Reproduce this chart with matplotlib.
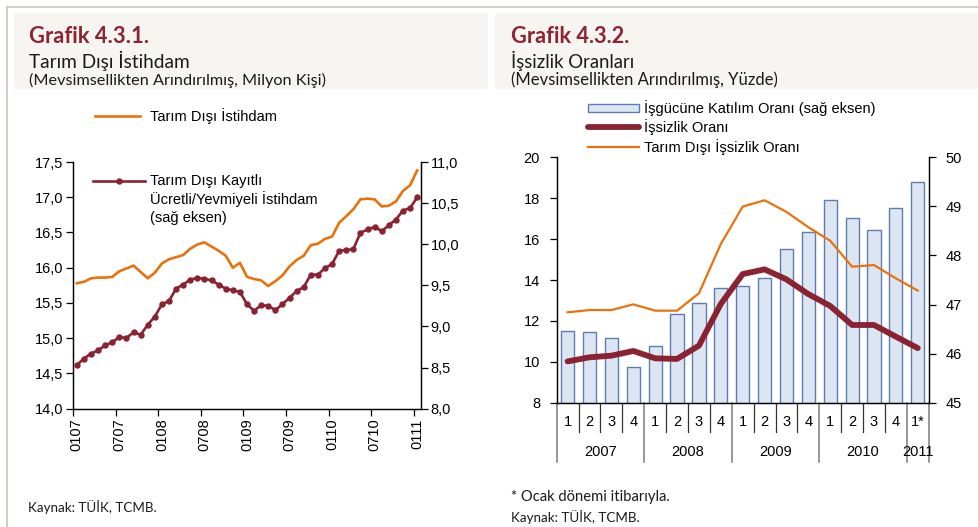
import matplotlib
matplotlib.use('Agg')
import numpy as np
import matplotlib.pyplot as plt
from matplotlib.lines import Line2D
from matplotlib.patches import Rectangle
from matplotlib.ticker import FuncFormatter
import matplotlib.transforms as mtransforms

# ---------------- data ----------------
month_labels = ['0107', '0707', '0108', '0708', '0109', '0709', '0110', '0710', '0111']
nonfarm_employment = [15.78, 15.80, 15.85, 15.86, 15.86, 15.87, 15.95, 15.99, 16.03, 15.94,
                      15.85, 15.93, 16.06, 16.12, 16.15, 16.18, 16.27, 16.33, 16.36, 16.30,
                      16.24, 16.17, 16.00, 16.07, 15.87, 15.84, 15.82, 15.74, 15.81, 15.89,
                      16.02, 16.11, 16.17, 16.32, 16.34, 16.41, 16.44, 16.64, 16.73, 16.83,
                      16.97, 16.98, 16.97, 16.87, 16.88, 16.94, 17.09, 17.17, 17.38]
registered_employment = [8.53, 8.61, 8.67, 8.71, 8.77, 8.81, 8.87, 8.86, 8.93, 8.90,
                         9.02, 9.12, 9.27, 9.31, 9.46, 9.51, 9.57, 9.59, 9.58, 9.56,
                         9.51, 9.46, 9.44, 9.42, 9.27, 9.19, 9.26, 9.25, 9.20, 9.27,
                         9.35, 9.43, 9.48, 9.63, 9.63, 9.71, 9.76, 9.92, 9.93, 9.94,
                         10.14, 10.18, 10.21, 10.16, 10.23, 10.30, 10.41, 10.44, 10.57]

quarter_labels = ['1', '2', '3', '4', '1', '2', '3', '4', '1', '2', '3', '4',
                  '1', '2', '3', '4', '1*']
year_labels = ['2007', '2008', '2009', '2010', '2011']
participation_rate = [46.47, 46.45, 46.32, 45.73, 46.15, 46.80, 47.04, 47.33, 47.38,
                      47.55, 48.13, 48.48, 49.12, 48.77, 48.52, 48.97, 49.49]
unemployment_rate = [10.02, 10.22, 10.30, 10.53, 10.17, 10.14, 10.79, 12.83, 14.29,
                     14.52, 14.03, 13.31, 12.73, 11.80, 11.80, 11.23, 10.67]
nonfarm_unemployment_rate = [12.42, 12.53, 12.53, 12.81, 12.50, 12.50, 13.35, 15.76, 17.59,
                             17.90, 17.33, 16.58, 15.92, 14.65, 14.73, 14.08, 13.48]

# ---------------- style ----------------
W, H = 979, 527
fig = plt.figure(figsize=(W / 100, H / 100), dpi=100)
fig.patch.set_facecolor('white')

CHART_FONT = ['Liberation Sans', 'DejaVu Sans']
HEAD_FONT = ['Lato', 'DejaVu Sans']
MAROON = '#8b2232'
ORANGE = '#e8730e'
TITLE_C = '#8c2434'
FS = 10.5

plt.rcParams['font.family'] = CHART_FONT


def fx(x):
    return x / W


def fy(y):
    return 1 - y / H


renderer = fig.canvas.get_renderer()


def fit_text(x, y, s, target_w, family=HEAD_FONT, color='#1a1a1a', weight='normal', fs0=10):
    t = fig.text(fx(x), fy(y), s, fontsize=fs0, family=family, color=color,
                 weight=weight, va='center', ha='left')
    w = t.get_window_extent(renderer=renderer).width
    t.set_fontsize(fs0 * target_w / w)
    return t


# ---------------- panel decoration ----------------
fig.patches.append(Rectangle((fx(14), fy(89.3)), fx(488) - fx(14), (89.3 - 13.3) / H,
                             transform=fig.transFigure, facecolor='#f6f5f1',
                             edgecolor='none', zorder=0))
fig.patches.append(Rectangle((fx(495), fy(89.3)), fx(979) - fx(495), (89.3 - 13.3) / H,
                             transform=fig.transFigure, facecolor='#f6f5f1',
                             edgecolor='none', zorder=0))
fig.lines.append(Line2D([fx(7), fx(979)], [fy(6.6), fy(6.6)], transform=fig.transFigure,
                        color='#cfcac2', lw=1.3))
fig.lines.append(Line2D([fx(7.3), fx(7.3)], [fy(6.6), fy(527)], transform=fig.transFigure,
                        color='#cfcac2', lw=1.3))

# ---------------- headers ----------------
fit_text(29, 36.7, 'Grafik 4.3.1.', 119, color=TITLE_C, weight='bold')
fit_text(29, 61, 'Tarım Dışı İstihdam', 161)
fit_text(29, 80, '(Mevsimsellikten Arındırılmış, Milyon Kişi)', 297)
fit_text(510.7, 36.7, 'Grafik 4.3.2.', 119, color=TITLE_C, weight='bold')
fit_text(510.7, 61, 'İşsizlik Oranları', 122.7)
fit_text(510.7, 80, '(Mevsimsellikten Arındırılmış, Yüzde)', 268)

fit_text(28.3, 506.7, 'Kaynak: TÜİK, TCMB.', 128)
fit_text(510.7, 497.3, '* Ocak dönemi itibarıyla.', 158.6)
fit_text(510.7, 516.7, 'Kaynak: TÜİK, TCMB.', 128)

comma = FuncFormatter(lambda v, p: f'{v:.1f}'.replace('.', ','))

# ---------------- left chart ----------------
axL = fig.add_axes([fx(73.3), fy(408.7), (420.7 - 73.3) / W, (408.7 - 162) / H])
xm = np.arange(len(nonfarm_employment))
axL.plot(xm, nonfarm_employment, color=ORANGE, lw=1.9, zorder=3)
axL.set_xlim(-0.5, len(nonfarm_employment) - 0.5)
axL.set_ylim(14, 17.5)
axL.set_yticks(np.arange(14, 17.51, 0.5))
axL.yaxis.set_major_formatter(comma)
axL.set_xticks([6 * i for i in range(len(month_labels))])
axL.set_xticklabels(month_labels, rotation=90, fontsize=FS)
axL.set_xticks(np.arange(-0.5, len(nonfarm_employment) - 1, 6), minor=True)
axL.tick_params(axis='x', which='major', length=0, pad=7)
axL.tick_params(axis='x', which='minor', length=5, direction='out', width=0.9)
axL.tick_params(axis='y', length=5, pad=2, labelsize=FS, width=0.9)
axL.spines['top'].set_visible(False)

axR = axL.twinx()
axR.plot(xm, registered_employment, color=MAROON, lw=1.9, marker='o', ms=3.6, zorder=3)
axR.set_ylim(8, 11)
axR.set_yticks(np.arange(8, 11.01, 0.5))
axR.yaxis.set_major_formatter(comma)
axR.tick_params(axis='y', length=5, pad=2, labelsize=FS, width=0.9)
axR.spines['top'].set_visible(False)
for ax in (axL, axR):
    for sp in ax.spines.values():
        sp.set_linewidth(0.9)

# left legends
fig.lines.append(Line2D([fx(95), fx(140)], [fy(116), fy(116)], transform=fig.transFigure,
                        color=ORANGE, lw=1.9))
fig.text(fx(150), fy(116), 'Tarım Dışı İstihdam', fontsize=FS, va='center', ha='left')
fig.lines.append(Line2D([fx(93), fx(145)], [fy(180.5), fy(180.5)], transform=fig.transFigure,
                        color=MAROON, lw=1.9))
fig.lines.append(Line2D([fx(119)], [fy(180.5)], transform=fig.transFigure,
                        color=MAROON, marker='o', ms=3.6))
for s, yy in zip(['Tarım Dışı Kayıtlı', 'Ücretli/Yevmiyeli İstihdam', '(sağ eksen)'],
                 [180.5, 199.3, 218.3]):
    fig.text(fx(150), fy(yy), s, fontsize=FS, va='center', ha='left')

# ---------------- right chart ----------------
axB = fig.add_axes([fx(556.7), fy(402.7), (928.7 - 556.7) / W, (402.7 - 157.3) / H])
xq = np.arange(len(participation_rate))
axB.bar(xq, participation_rate, width=0.6, color='#dce6f2', edgecolor='#5b7db3', lw=1.0,
        zorder=2)
axB.set_ylim(45, 50)
axB.set_xlim(-0.5, len(participation_rate) - 0.5)
axB.set_yticks(range(45, 51))
axB.set_xticks([])
axB.spines['top'].set_visible(False)

axU = axB.twinx()
axU.plot(xq, nonfarm_unemployment_rate, color=ORANGE, lw=1.6, zorder=3)
axU.plot(xq, unemployment_rate, color=MAROON, lw=4.2, zorder=4, solid_capstyle='round')
axU.set_ylim(8, 20)
axU.set_yticks(range(8, 21, 2))
axU.spines['top'].set_visible(False)

# put bar axis on the right, line axis on the left (after twinx)
axB.yaxis.tick_right()
axB.yaxis.set_label_position('right')
axU.yaxis.tick_left()
axU.yaxis.set_label_position('left')
axB.tick_params(axis='y', which='both', left=False, labelleft=False, right=True,
                labelright=True, length=5, pad=7, labelsize=FS, width=0.9)
axU.tick_params(axis='y', which='both', right=False, labelright=False, left=True,
                labelleft=True, length=5, pad=7, labelsize=FS, width=0.9)
for ax in (axB, axU):
    for sp in ax.spines.values():
        sp.set_linewidth(0.9)

trans = mtransforms.blended_transform_factory(axB.transData, axB.transAxes)
ax_h = 402.7 - 157.3
yq = -19 / ax_h
yy_lab = -49 / ax_h
q_end = -29 / ax_h
y_end = -59 / ax_h
for i, q in enumerate(quarter_labels):
    axB.text(i, yq, q, transform=trans, ha='center', va='center', fontsize=FS)
n = len(quarter_labels)
year_starts = list(range(0, n, 4))
for j, yl in enumerate(year_labels):
    s0 = year_starts[j]
    s1 = min(s0 + 3, n - 1)
    axB.text((s0 + s1) / 2, yy_lab, yl, transform=trans, ha='center', va='center', fontsize=FS)
for b in range(0, n + 1):
    xb = b - 0.5
    if b in year_starts or b == n:
        axB.add_line(Line2D([xb, xb], [0, y_end], transform=trans, color='#7a7a7a',
                            lw=1.1, clip_on=False))
    else:
        axB.add_line(Line2D([xb, xb], [0, q_end], transform=trans, color='#333333',
                            lw=0.9, clip_on=False))

# right legend
fig.patches.append(Rectangle((fx(588), fy(111.7)), fx(639) - fx(588), (111.7 - 104) / H,
                             transform=fig.transFigure, facecolor='#dce6f2',
                             edgecolor='#5b7db3', lw=1.0))
fig.text(fx(644), fy(108.3), 'İşgücüne Katılım Oranı (sağ eksen)', fontsize=FS,
         va='center', ha='left')
fig.lines.append(Line2D([fx(588), fx(639)], [fy(126.7), fy(126.7)], transform=fig.transFigure,
                        color=MAROON, lw=4.2, solid_capstyle='round'))
fig.text(fx(644), fy(126.7), 'İşsizlik Oranı', fontsize=FS, va='center', ha='left')
fig.lines.append(Line2D([fx(588), fx(639)], [fy(146.7), fy(146.7)], transform=fig.transFigure,
                        color=ORANGE, lw=1.6))
fig.text(fx(644), fy(146.7), 'Tarım Dışı İşsizlik Oranı', fontsize=FS, va='center', ha='left')

fig.savefig('out.png', dpi=100)
